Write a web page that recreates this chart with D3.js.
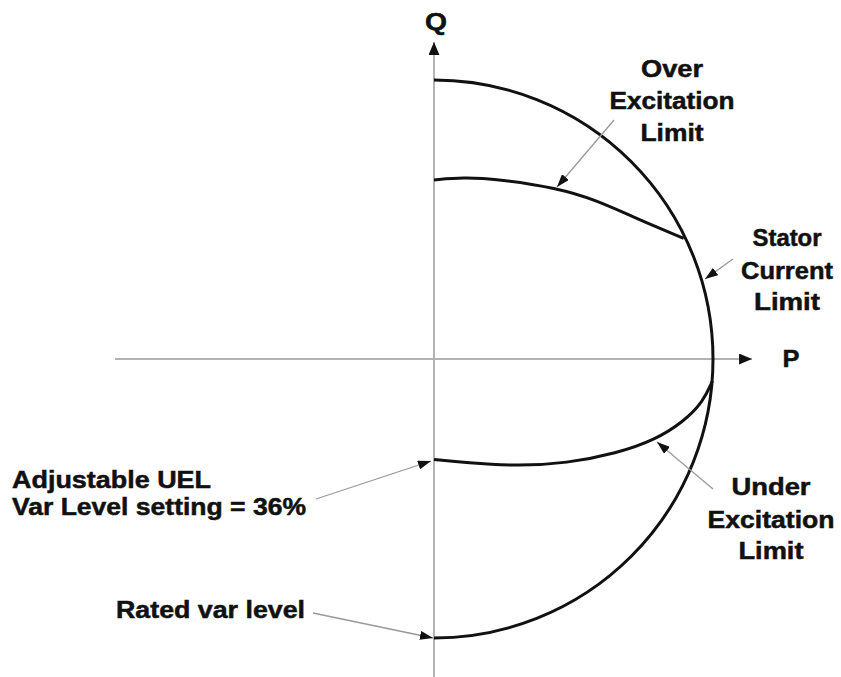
<!DOCTYPE html>
<html>
<head>
<meta charset="utf-8">
<script src="https://cdn.jsdelivr.net/npm/d3@7"></script>
<style>
  html, body { margin: 0; padding: 0; background: #fff; }
  svg { display: block; }
  text { font-family: "Liberation Sans", Arial, sans-serif; font-weight: bold; fill: #111; stroke: #111; stroke-width: 0.5; }
</style>
</head>
<body>
<svg id="chart" width="841" height="677"></svg>
<script>
// ---- data (per-unit P/Q) ----
const statorRadius = 1.0;
const axisExtentP = [-1.143, 1.14];
const axisExtentQ = [-1.14, 1.136];
const oelP = [0.000, 0.104, 0.226, 0.441, 0.584, 0.702, 0.895];
const oelQ = [0.642, 0.651, 0.645, 0.613, 0.568, 0.514, 0.432];
const uelP = [0.000, 0.117, 0.296, 0.475, 0.655, 0.792, 0.894, 0.965, 0.998];
const uelQ = [-0.360, -0.372, -0.384, -0.374, -0.338, -0.290, -0.225, -0.153, -0.079];
const axisLabels = ["P", "Q"];
const oelLabel = ["Over", "Excitation", "Limit"];
const statorLabel = ["Stator", "Current", "Limit"];
const uelLabel = ["Under", "Excitation", "Limit"];
const uelSettingLabel = ["Adjustable UEL", "Var Level setting = 36%"];
const ratedLabel = ["Rated var level"];

// ---- layout ----
const svg = d3.select("#chart");
const x = d3.scaleLinear().domain([-1, 1]).range([155, 713]);
const y = d3.scaleLinear().domain([-1, 1]).range([638, 80]);

const defs = svg.append("defs");
function marker(id, len, wid) {
  defs.append("marker")
    .attr("id", id).attr("markerUnits", "userSpaceOnUse")
    .attr("viewBox", `0 0 ${len} ${wid}`)
    .attr("refX", len).attr("refY", wid / 2)
    .attr("markerWidth", len).attr("markerHeight", wid)
    .attr("orient", "auto")
    .append("path").attr("d", `M0,0L${len},${wid / 2}L0,${wid}Z`).attr("fill", "#111");
}
marker("axArrow", 13, 11);
marker("anArrow", 13, 9);

// axes
svg.append("line")
  .attr("x1", x(axisExtentP[0])).attr("y1", y(0))
  .attr("x2", x(axisExtentP[1])).attr("y2", y(0))
  .attr("stroke", "#b3b3b3").attr("stroke-width", 2)
  .attr("marker-end", "url(#axArrow)");
svg.append("line")
  .attr("x1", x(0)).attr("y1", y(axisExtentQ[0]))
  .attr("x2", x(0)).attr("y2", y(axisExtentQ[1]))
  .attr("stroke", "#b3b3b3").attr("stroke-width", 2)
  .attr("marker-end", "url(#axArrow)");

// stator current limit: right half circle
const r = x(statorRadius) - x(0);
const p = d3.path();
p.moveTo(x(0), y(statorRadius));
p.arc(x(0), y(0), r, -Math.PI / 2, Math.PI / 2, false);
svg.append("path").attr("d", p.toString())
  .attr("fill", "none").attr("stroke", "#111").attr("stroke-width", 3);

const line = d3.line().x(d => x(d[0])).y(d => y(d[1])).curve(d3.curveBasis);
svg.append("path").attr("d", line(d3.zip(oelP, oelQ)))
  .attr("fill", "none").attr("stroke", "#111").attr("stroke-width", 3);
svg.append("path").attr("d", line(d3.zip(uelP, uelQ)))
  .attr("fill", "none").attr("stroke", "#111").attr("stroke-width", 3);

// annotation arrows
const arrows = [
  [614, 120, 557, 187],
  [733, 259, 705, 279],
  [713, 489, 657, 442],
  [316, 499, 431, 461],
  [313, 613, 433, 638]
];
svg.selectAll(".ann").data(arrows).join("line")
  .attr("x1", d => d[0]).attr("y1", d => d[1])
  .attr("x2", d => d[2]).attr("y2", d => d[3])
  .attr("stroke", "#999").attr("stroke-width", 1.3)
  .attr("marker-end", "url(#anArrow)");

// text
function addText(t, tx, ty, w, anchor, size) {
  const el = svg.append("text").attr("x", tx).attr("y", ty)
    .attr("text-anchor", anchor || "start")
    .attr("font-size", size || 23.5).text(t);
  if (w) el.attr("textLength", w).attr("lengthAdjust", "spacingAndGlyphs");
  return el;
}
addText(axisLabels[1], 436, 30, 22, "middle", 24);
addText(axisLabels[0], 791, 367, 17, "middle", 24.5);

const oelW = [62, 125, 63], oelY = [77, 109, 141];
oelLabel.forEach((t, i) => addText(t, 672, oelY[i], oelW[i], "middle"));
const stW = [69, 92, 66], stY = [246, 279, 310];
statorLabel.forEach((t, i) => addText(t, 787, stY[i], stW[i], "middle"));
const ueW = [79, 127, 65], ueY = [495, 528, 559];
uelLabel.forEach((t, i) => addText(t, 771, ueY[i], ueW[i], "middle"));
const usW = [199, 294], usY = [488, 515];
uelSettingLabel.forEach((t, i) => addText(t, 12, usY[i], usW[i], "start"));
addText(ratedLabel[0], 116, 618, 189, "start");
</script>
</body>
</html>
